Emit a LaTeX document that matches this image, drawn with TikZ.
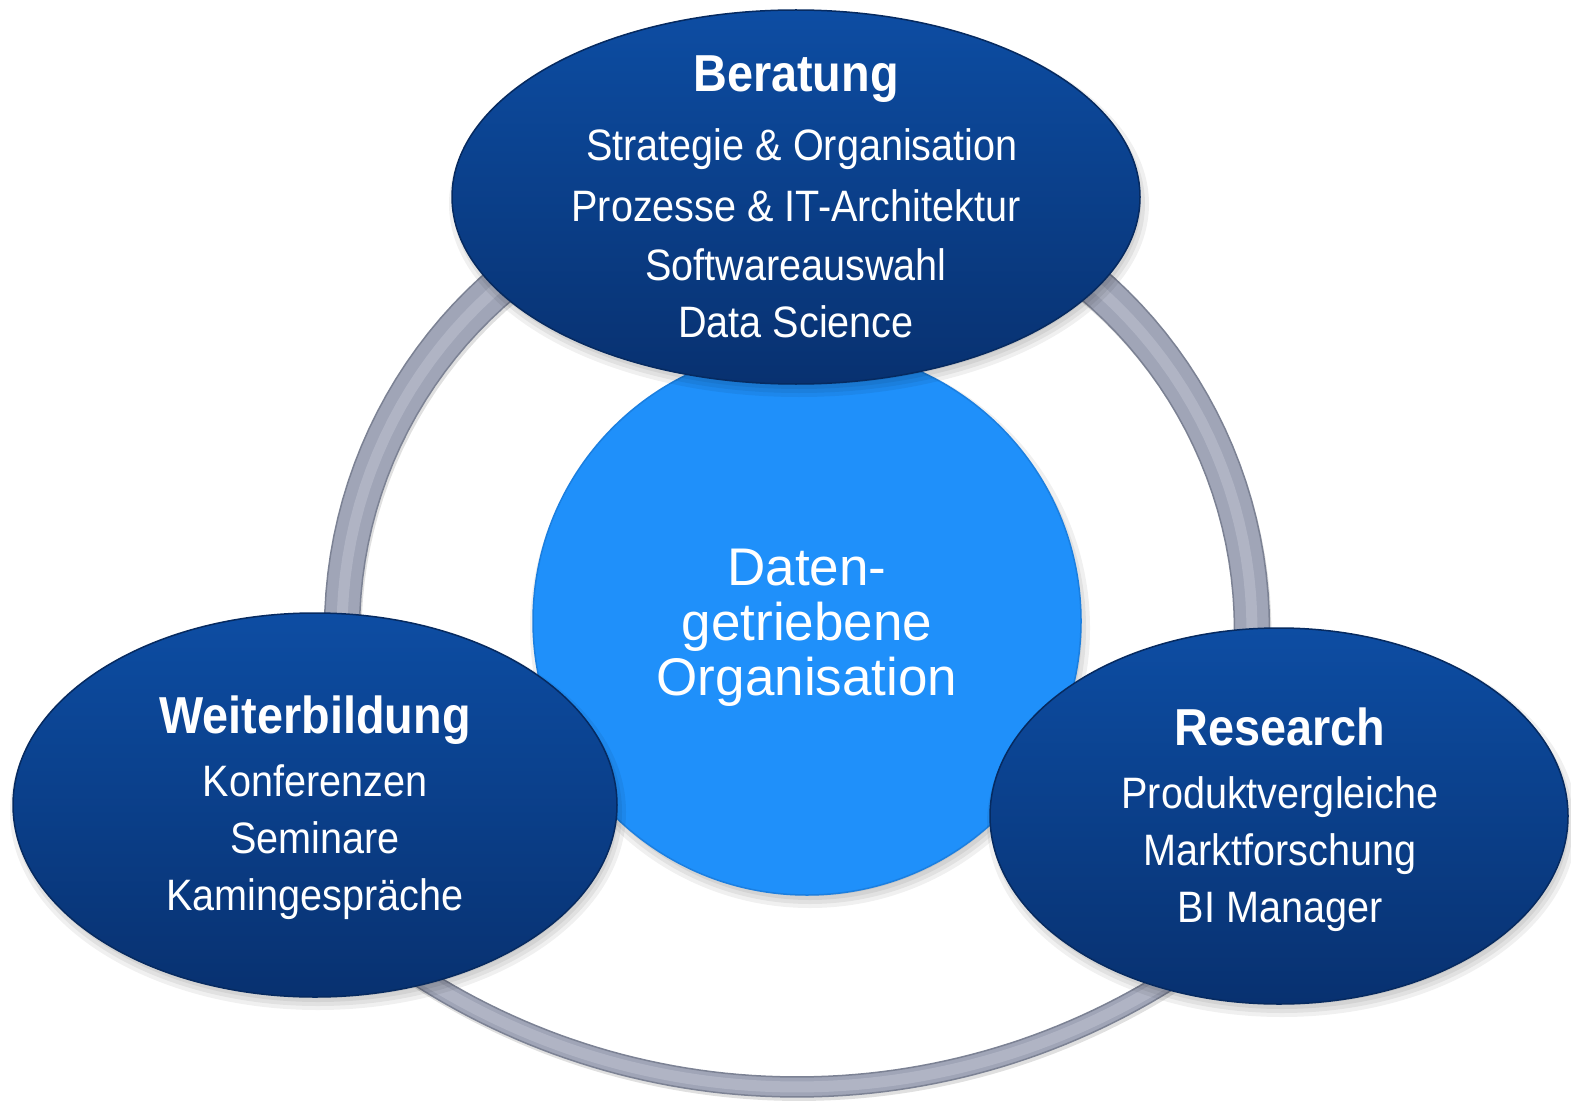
\documentclass[tikz,border=0pt]{standalone}
\usepackage{fontspec}
\setmainfont{Liberation Sans}
\newfontfamily\condfont[FakeStretch=0.9]{Liberation Sans}
\usetikzlibrary{shapes.geometric}
\definecolor{ringmain}{HTML}{A0A5B7}
\definecolor{ringdark}{HTML}{7C8294}
\definecolor{ringlight}{HTML}{BBBFCE}
\definecolor{bubtop}{HTML}{0D4DA3}
\definecolor{bubmid}{HTML}{0A3F8A}
\definecolor{bubbot}{HTML}{083170}
\definecolor{bubedge}{HTML}{062A60}
\definecolor{coreblue}{HTML}{1F90FA}
\definecolor{coreedge}{HTML}{1B7FE0}
\tikzset{
  bubble/.style={ellipse, inner sep=0pt, top color=bubtop, middle color=bubmid, bottom color=bubbot, draw=bubedge, line width=1.5pt},
  core/.style={ellipse, inner sep=0pt, fill=coreblue, draw=coreedge, line width=1.5pt},
  ttl/.style={text=white, anchor=base, inner sep=0pt, font=\condfont\bfseries\fontsize{52}{60}\selectfont},
  itm/.style={text=white, anchor=base, inner sep=0pt, font=\condfont\fontsize{44}{50}\selectfont},
  ctr/.style={text=white, anchor=base, inner sep=0pt, font=\fontsize{53}{55}\selectfont},
  shade/.style={fill=black, opacity=0.06}
}
\newcommand\softshadow[4]{%
  \foreach \dd in {0,4,8,12}{%
    \fill[shade] (#1+3,#2+7) ellipse[x radius=#3pt+6pt-\dd pt, y radius=#4pt+6pt-\dd pt];}}
% ring outlines (screen coordinates, y downwards)
\newcommand\ringouter{(324.5,630) -- plot[domain=180:360, samples=80] ({797+472.5*cos(\x)},{630+475*sin(\x)})
  -- (1269.5,820) .. controls (1269.5,915) and (1224,957) .. (1173.3,989)
  -- plot[domain=58:122, samples=60] ({797+710*cos(\x)},{387+710*sin(\x)})
  .. controls (370,957) and (324.5,915) .. (324.5,820) -- cycle}
\newcommand\ringinner{(359.5,630) -- plot[domain=180:360, samples=80] ({797+437.5*cos(\x)},{630+435*sin(\x)})
  -- (1234.5,820) .. controls (1234.5,900) and (1209,943) .. (1162.6,972)
  -- plot[domain=58:122, samples=60] ({797+690*cos(\x)},{387+690*sin(\x)})
  .. controls (385,943) and (359.5,900) .. (359.5,820) -- cycle}
\newcommand\ringmid{(342,630) -- plot[domain=180:360, samples=80] ({797+455*cos(\x)},{630+455*sin(\x)})
  -- (1252,820) .. controls (1252,907) and (1217,950) .. (1168,980.6)
  -- plot[domain=58:122, samples=60] ({797+700*cos(\x)},{387+700*sin(\x)})
  .. controls (377,950) and (342,907) .. (342,820) -- cycle}
\begin{document}
\begin{tikzpicture}[x=1pt,y=-1pt]
\useasboundingbox (0,0) rectangle (1571,1102);
\fill[white] (0,0) rectangle (1571,1102);
% ring
\begin{scope}[shift={(2,4)}]
\fill[black, opacity=0.12, even odd rule] \ringouter \ringinner;
\end{scope}
\fill[ringmain, even odd rule] \ringouter \ringinner;
\draw[ringlight, line width=11pt, opacity=0.6] \ringmid;
\draw[ringdark, line width=1.5pt] \ringouter;
\draw[ringdark, line width=1.5pt] \ringinner;
% core
\softshadow{807}{621}{274}{274}
\node[core, minimum width=548pt, minimum height=548pt] (core) at (807,621) {};
\node[ctr] (c1) at (807,585) {Daten-};
\node[ctr] (c2) at (807,640) {getriebene};
\node[ctr] (c3) at (807,695) {Organisation};
% bubbles
\softshadow{796}{197}{344}{187}
\softshadow{315}{805}{302}{192}
\softshadow{1279}{816}{289}{188}
\node[bubble, minimum width=688pt, minimum height=374pt] (ber) at (796,197) {};
\node[bubble, minimum width=604pt, minimum height=384pt] (wei) at (315,805) {};
\node[bubble, minimum width=578pt, minimum height=376pt] (res) at (1279,816) {};
% texts
\node[ttl] (bt) at (796,92) {Beratung};
\node[itm] (b1) at (802,161) {Strategie \& Organisation};
\node[itm] (b2) at (796,222) {Prozesse \& IT-Architektur};
\node[itm] (b3) at (796,280) {Softwareauswahl};
\node[itm] (b4) at (796,337) {Data Science};
\node[ttl] (wt) at (315,733) {Weiterbildung};
\node[itm] (w1) at (315,796) {Konferenzen};
\node[itm] (w2) at (315,853) {Seminare};
\node[itm] (w3) at (315,910) {Kamingespräche};
\node[ttl] (rt) at (1280,745) {Research};
\node[itm] (r1) at (1280,808) {Produktvergleiche};
\node[itm] (r2) at (1280,865) {Marktforschung};
\node[itm] (r3) at (1280,922) {BI Manager};
\end{tikzpicture}
\end{document}
